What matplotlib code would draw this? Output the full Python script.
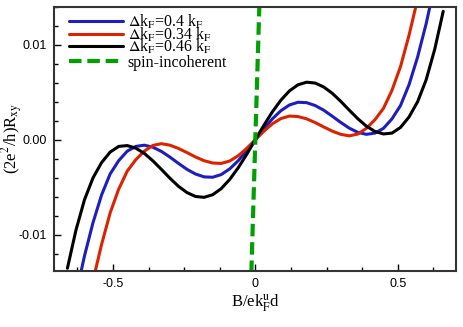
import matplotlib
matplotlib.use('Agg')
import matplotlib.pyplot as plt
from matplotlib.ticker import MultipleLocator, FormatStrFormatter

plt.rcParams['font.family'] = ['Liberation Serif', 'DejaVu Serif']
plt.rcParams['mathtext.fontset'] = 'stix'
plt.rcParams['axes.unicode_minus'] = False

# field values B/ek_F d (shared by the three curves)
B = [-0.66, -0.63, -0.60, -0.57, -0.54, -0.51, -0.48, -0.45, -0.42, -0.39, -0.36,
     -0.33, -0.30, -0.27, -0.24, -0.21, -0.18, -0.15, -0.12, -0.09, -0.06, -0.03,
     0.00, 0.03, 0.06, 0.09, 0.12, 0.15, 0.18, 0.21, 0.24, 0.27, 0.30, 0.33,
     0.36, 0.39, 0.42, 0.45, 0.48, 0.51, 0.54, 0.57, 0.60, 0.63, 0.66]

# dk_F = 0.4 k_F (blue)
R_04 = [-0.0210, -0.0163, -0.0122, -0.0087, -0.0058, -0.0036, -0.0022, -0.0012, -0.0007,
        -0.00057, -0.00078, -0.00122, -0.00182, -0.00248, -0.00311, -0.00360, -0.00390,
        -0.00394, -0.00366, -0.00306, -0.00220, -0.00115,
        0.0, 0.00115, 0.00220, 0.00306, 0.00366, 0.00394, 0.00390, 0.00360, 0.00311,
        0.00248, 0.00182, 0.00122, 0.00078, 0.00057, 0.0007, 0.0012, 0.0022, 0.0036,
        0.0058, 0.0087, 0.0122, 0.0163, 0.0210]

# dk_F = 0.34 k_F (red)
R_034 = [-0.0290, -0.0240, -0.0192, -0.0148, -0.0110, -0.0077, -0.0052, -0.0033, -0.0021,
         -0.0012, -0.0006, -0.00041, -0.00057, -0.00091, -0.00135, -0.00181, -0.00220,
         -0.00244, -0.00249, -0.00223, -0.00168, -0.00090,
         0.0, 0.00090, 0.00168, 0.00223, 0.00249, 0.00244, 0.00220, 0.00181, 0.00135,
         0.00091, 0.00057, 0.00041, 0.0006, 0.0012, 0.0021, 0.0033, 0.0052, 0.0077,
         0.0110, 0.0148, 0.0192, 0.0240, 0.0290]

# dk_F = 0.46 k_F (black)
R_046 = [-0.0135, -0.0095, -0.0063, -0.0040, -0.0024, -0.0013, -0.0007, -0.00061, -0.00088,
         -0.00143, -0.00221, -0.00311, -0.00404, -0.00489, -0.00555, -0.00596, -0.00605,
         -0.00578, -0.00514, -0.00417, -0.00294, -0.00152,
         0.0, 0.00152, 0.00294, 0.00417, 0.00514, 0.00578, 0.00605, 0.00596, 0.00555,
         0.00489, 0.00404, 0.00311, 0.00221, 0.00143, 0.00088, 0.00061, 0.0007, 0.0013,
         0.0024, 0.0040, 0.0063, 0.0095, 0.0135]

# spin-incoherent
B_si = [-0.014, 0.014]
R_si = [-0.014, 0.014]

fig = plt.figure(figsize=(4.63, 3.27), dpi=100)
ax = fig.add_axes([0.1173, 0.171, 0.8677, 0.809])

kw = dict(lw=2.2, solid_joinstyle='round', solid_capstyle='round')
l1, = ax.plot(B, R_04, color='#1e1ec0', label=r'$\Delta$k$_{\rm F}$=0.4 k$_{\rm F}$', **kw)
l2, = ax.plot(B, R_034, color='#dd2200', label=r'$\Delta$k$_{\rm F}$=0.34 k$_{\rm F}$', **kw)
l3, = ax.plot(B, R_046, color='black', label=r'$\Delta$k$_{\rm F}$=0.46 k$_{\rm F}$', **kw)
l4, = ax.plot(B_si, R_si, color='#00a000', lw=3, ls=(0, (3, 1.4)), label='spin-incoherent')

ax.set_xlim(-0.706, 0.705)
ax.set_ylim(-0.0138, 0.0140)

ax.xaxis.set_major_locator(MultipleLocator(0.5))
ax.xaxis.set_minor_locator(MultipleLocator(0.125))
ax.yaxis.set_major_locator(MultipleLocator(0.01))
ax.yaxis.set_minor_locator(MultipleLocator(0.002))
ax.xaxis.set_major_formatter(FormatStrFormatter('%g'))
ax.yaxis.set_major_formatter(FormatStrFormatter('%.2f'))
ax.tick_params(which='both', direction='in', top=False, right=False, width=1,
               labelsize=9, pad=5)
ax.tick_params(which='major', length=5)
ax.tick_params(which='minor', length=3)
for lab in ax.get_xticklabels() + ax.get_yticklabels():
    lab.set_family(['Liberation Sans', 'DejaVu Sans'])
for s in ax.spines.values():
    s.set_linewidth(1.5)
    s.set_color('#333333')

ax.set_xlabel(r'B/ek$_{\rm F}^{\rm u}$d', fontsize=12, labelpad=2)
ax.set_ylabel(r'(2e$^2$/h)R$_{\rm xy}$', fontsize=12)
ax.yaxis.set_label_coords(-0.073, 0.5)

# three math rows, then the spin-incoherent row as its own legend so the row pitch stays even
leg1 = ax.legend(handles=[l1, l2, l3], loc='upper left', frameon=False, fontsize=11.5,
                 handlelength=3.4, labelspacing=-0.35, handletextpad=0.3,
                 borderaxespad=0.0, bbox_to_anchor=(0.02, 1.0))
ax.add_artist(leg1)
ax.legend(handles=[l4], loc='upper left', frameon=False, fontsize=11.5,
          handlelength=3.4, handletextpad=0.3, borderaxespad=0.0, borderpad=0.0,
          bbox_to_anchor=(0.02 + 0.4 * 11.5 / 72 * 100 / 401.7, 0.818))

fig.savefig('out.png', dpi=100)
